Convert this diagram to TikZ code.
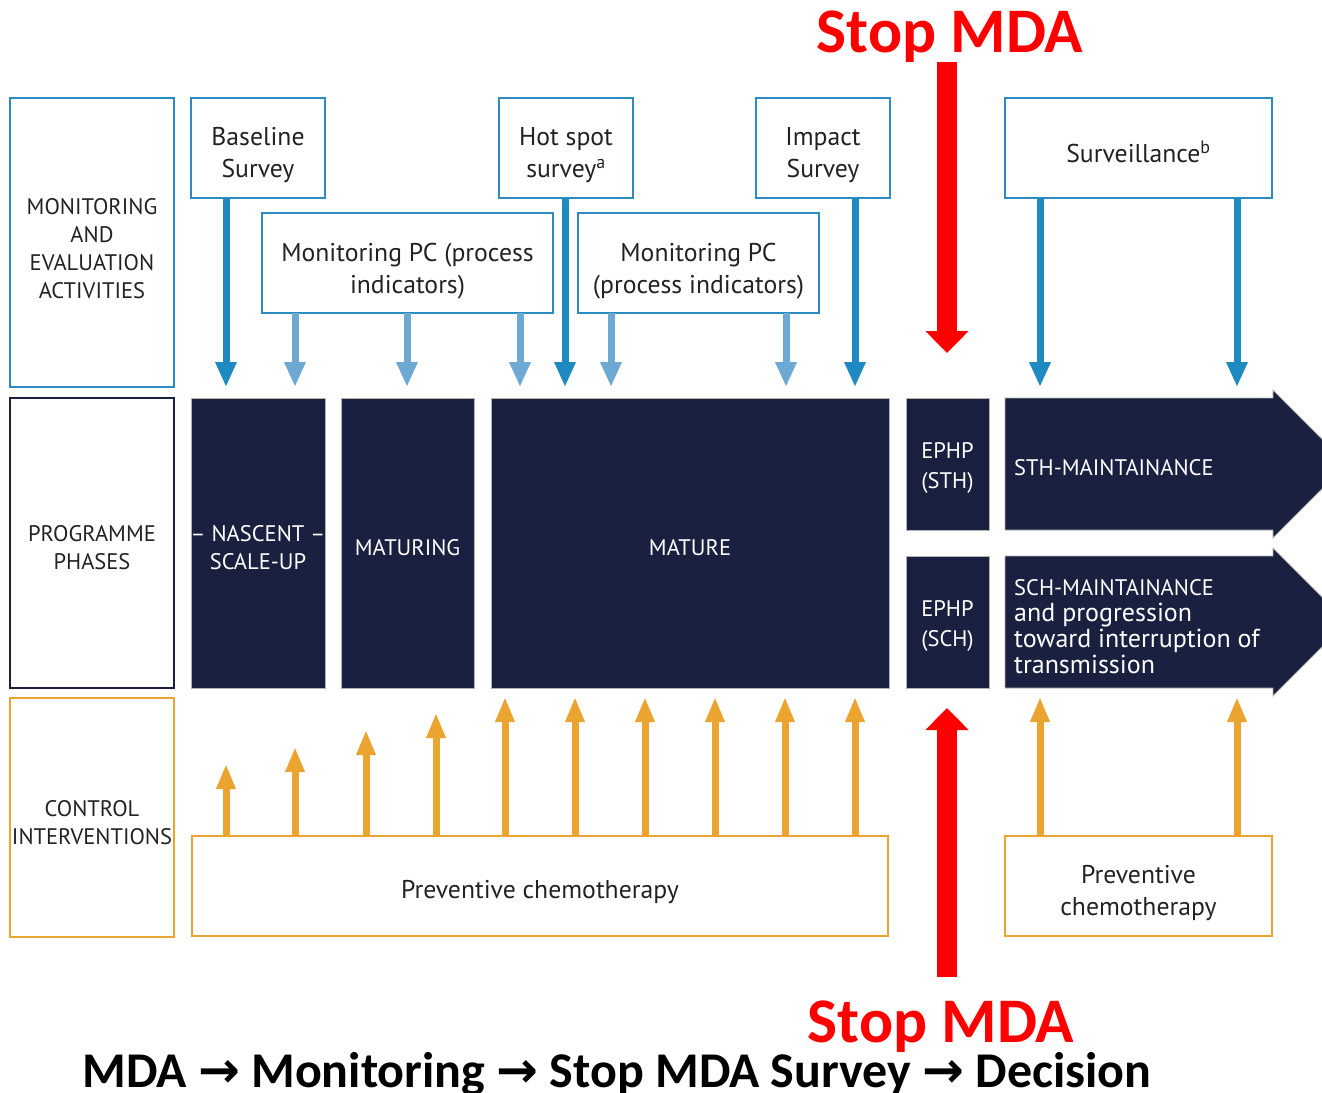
\documentclass[tikz,border=0pt]{standalone}
\usepackage{fontspec}
\setmainfont{PT Sans}
\newfontfamily\calib{Carlito}
\newfontfamily\arrfont{DejaVu Sans}
\usetikzlibrary{arrows.meta,calc}
\definecolor{mblue}{HTML}{2B8CC4}
\definecolor{dblue}{HTML}{1F8AC2}
\definecolor{lblue}{HTML}{6EA9D3}
\definecolor{navy}{HTML}{1A2040}
\definecolor{orng}{HTML}{EBA430}
\definecolor{redc}{HTML}{FF0000}
\definecolor{txt}{HTML}{222222}
\newcommand\boxtext[4]{\node[#2,yshift=#3] (#1t) at (#1.center) {#4};}
\begin{document}
\begin{tikzpicture}[x=1pt,y=-1pt,
  boxbase/.style={rectangle,anchor=north west,inner sep=0pt,outer sep=0pt},
  bluebox/.style={boxbase,draw=mblue,line width=2.5pt},
  labbox/.style={boxbase,line width=2.5pt},
  phasebox/.style={boxbase,fill=navy,draw=gray!60,line width=0.8pt},
  orbox/.style={boxbase,draw=orng,line width=2.5pt},
  btxt/.style={inner sep=0pt,align=center,text=txt,font=\fontsize{25.7}{32}\selectfont},
  ltxt/.style={inner sep=0pt,align=center,text=txt,font=\fontsize{22.5}{28}\selectfont},
  ptxt/.style={inner sep=0pt,align=center,text=white,font=\fontsize{22.5}{28}\selectfont},
  darr/.style={dblue,line width=7pt,-{Triangle[width=20pt,length=25pt]}},
  larr/.style={lblue,line width=7pt,-{Triangle[width=20pt,length=25pt]}},
  oarr/.style={orng,line width=7pt,-{Triangle[width=18pt,length=25pt]}},
  redarr/.style={redc,line width=20pt,-{Triangle[width=42pt,length=22pt]}},
  stoptxt/.style={text=redc,font=\calib\bfseries\fontsize{63.5}{63.5}\selectfont,inner sep=0pt,anchor=base}
]
\useasboundingbox (0,0) rectangle (1322,1092);

% left column labels
\node[labbox,draw=mblue,minimum width=164pt,minimum height=289pt] (me) at (10,98) {};
\node[labbox,draw=navy,minimum width=164pt,minimum height=290pt] (pp) at (10,398) {};
\node[labbox,draw=orng,minimum width=164pt,minimum height=239pt] (ci) at (10,698) {};
\boxtext{me}{ltxt}{-6pt}{MONITORING\\AND\\EVALUATION\\ACTIVITIES}
\boxtext{pp}{ltxt}{-5pt}{PROGRAMME\\PHASES}
\boxtext{ci}{ltxt}{-5pt}{CONTROL\\INTERVENTIONS}

% monitoring boxes
\node[bluebox,minimum width=134pt,minimum height=100pt] (base) at (191,98) {};
\node[bluebox,minimum width=134pt,minimum height=100pt] (hot) at (499,98) {};
\node[bluebox,minimum width=134pt,minimum height=100pt] (imp) at (756,98) {};
\node[bluebox,minimum width=267pt,minimum height=100pt] (surv) at (1005,98) {};
\node[bluebox,minimum width=291pt,minimum height=100pt] (mon1) at (262,213) {};
\node[bluebox,minimum width=241pt,minimum height=100pt] (mon2) at (578,213) {};
\boxtext{base}{btxt}{-7pt}{Baseline\\Survey}
\boxtext{hot}{btxt}{-7pt}{Hot spot\\survey\textsuperscript{a}}
\boxtext{imp}{btxt}{-7pt}{Impact\\Survey}
\boxtext{surv}{btxt}{-4pt}{Surveillance\textsuperscript{b}}
\boxtext{mon1}{btxt}{-8pt}{Monitoring PC (process\\indicators)}
\boxtext{mon2}{btxt}{-8pt}{Monitoring PC\\(process indicators)}

% phases
\node[phasebox,minimum width=134pt,minimum height=290pt] (nasc) at (191,398) {};
\node[phasebox,minimum width=133pt,minimum height=290pt] (matg) at (341,398) {};
\node[phasebox,minimum width=398pt,minimum height=290pt] (mat) at (491,398) {};
\node[phasebox,minimum width=83pt,minimum height=132pt] (ephs) at (906,398) {};
\node[phasebox,minimum width=83pt,minimum height=132pt] (ephc) at (906,556) {};
\boxtext{nasc}{ptxt}{-5pt}{-- NASCENT --\\SCALE-UP}
\boxtext{matg}{ptxt}{-5pt}{MATURING}
\boxtext{mat}{ptxt}{-5pt}{MATURE}
\boxtext{ephs}{ptxt,font=\fontsize{22.5}{30}\selectfont}{-4pt}{EPHP\\(STH)}
\boxtext{ephc}{ptxt,font=\fontsize{22.5}{30}\selectfont}{-4pt}{EPHP\\(SCH)}
\node[boxbase,minimum width=268pt,minimum height=132pt] (sthm) at (1005,398) {};
\node[boxbase,minimum width=268pt,minimum height=132pt] (schm) at (1005,556) {};
\fill[navy,draw=gray!60,line width=0.8pt] (sthm.north west) -- (sthm.north east) -- ++(0,-8) -- ($(sthm.east)+(74,0)$) -- ($(sthm.south east)+(0,8)$) -- (sthm.south east) -- (sthm.south west) -- cycle;
\fill[navy,draw=gray!60,line width=0.8pt] (schm.north west) -- (schm.north east) -- ++(0,-8) -- ($(schm.east)+(74,0)$) -- ($(schm.south east)+(0,8)$) -- (schm.south east) -- (schm.south west) -- cycle;
\node[ptxt,anchor=west,align=left] (stht) at ($(sthm.west)+(9,4)$) {STH-MAINTAINANCE};
\node[ptxt,anchor=west,align=left,font=\fontsize{26}{26}\selectfont] (scht) at ($(schm.west)+(9,5)$)
  {{\fontsize{22.5}{26}\selectfont SCH-MAINTAINANCE}\\and progression\\toward interruption of\\transmission};

% preventive chemotherapy
\node[orbox,minimum width=696pt,minimum height=100pt] (pc) at (192,836) {};
\node[orbox,minimum width=267pt,minimum height=100pt] (pc2) at (1005,836) {};
\boxtext{pc}{btxt}{-6pt}{Preventive chemotherapy}
\boxtext{pc2}{btxt}{-7pt}{Preventive\\chemotherapy}

% dark blue arrows
\draw[darr,shorten >=11pt] (226,0 |- base.south) -- (226,0 |- nasc.north);
\draw[darr,shorten >=11pt] (565,0 |- hot.south) -- (565,0 |- mat.north);
\draw[darr,shorten >=11pt] (855,0 |- imp.south) -- (855,0 |- mat.north);
\draw[darr,shorten >=11pt] (1040,0 |- surv.south) -- (1040,0 |- sthm.north);
\draw[darr,shorten >=11pt] (1237,0 |- surv.south) -- (1237,0 |- sthm.north);
% light blue arrows
\draw[larr,shorten >=11pt] (295,0 |- mon1.south) -- (295,0 |- nasc.north);
\draw[larr,shorten >=11pt] (407,0 |- mon1.south) -- (407,0 |- matg.north);
\draw[larr,shorten >=11pt] (520,0 |- mon1.south) -- (520,0 |- mat.north);
\draw[larr,shorten >=11pt] (611,0 |- mon2.south) -- (611,0 |- mat.north);
\draw[larr,shorten >=11pt] (786,0 |- mon2.south) -- (786,0 |- mat.north);

% orange arrows
\foreach \x/\l in {226/72,295/89,366/106,436/123} {
  \draw[oarr] (\x,0 |- pc.north) -- ++(0,-\l);
}
\foreach \x in {505,575,645,715,785,855} {
  \draw[oarr,shorten >=9pt] (\x,0 |- pc.north) -- (\x,0 |- mat.south);
}
\foreach \x in {1040,1237} {
  \draw[oarr,shorten >=9pt] (\x,0 |- pc2.north) -- (\x,0 |- schm.south);
}

% stop MDA
\node[stoptxt] (stoptop) at (950,52) {Stop MDA};
\node[stoptxt] (stopbot) at (941,1042) {Stop MDA};
\coordinate (topstart) at (947,62);
\coordinate (botstart) at (947,977);
\draw[redarr,shorten >=45pt] (topstart) -- (topstart |- ephs.north);
\draw[redarr,shorten >=20pt] (botstart) -- (botstart |- ephc.south);

\node[anchor=base,inner sep=0pt,font=\calib\bfseries\fontsize{50}{50}\selectfont] (flow) at (617,1087)
  {MDA {\arrfont\bfseries →} Monitoring {\arrfont\bfseries →} Stop MDA Survey {\arrfont\bfseries →} Decision};
\end{tikzpicture}
\end{document}
